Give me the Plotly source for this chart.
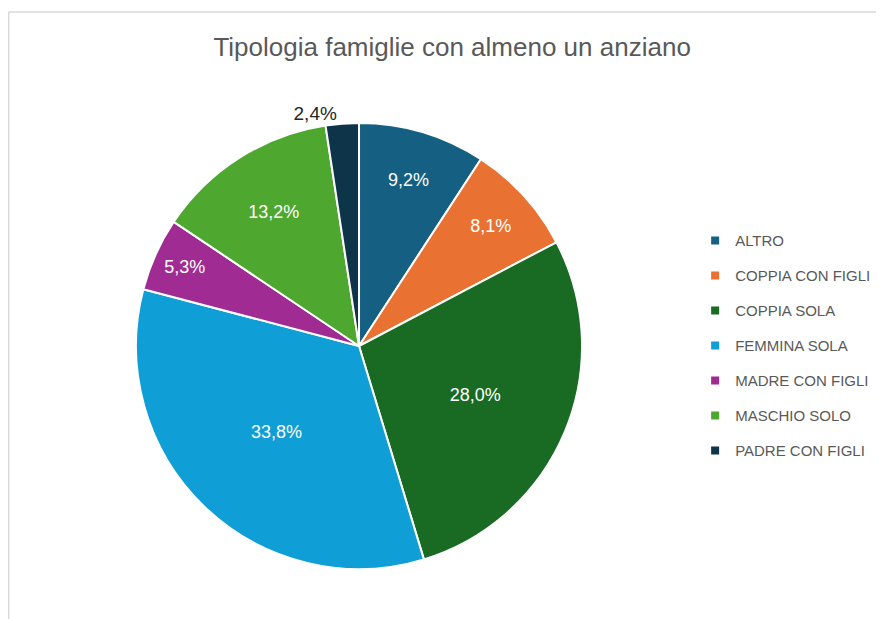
import plotly.graph_objects as go

# dati
categorie = ['ALTRO', 'COPPIA CON FIGLI', 'COPPIA SOLA', 'FEMMINA SOLA',
             'MADRE CON FIGLI', 'MASCHIO SOLO', 'PADRE CON FIGLI']
percentuali = [9.2, 8.1, 28.0, 33.8, 5.3, 13.2, 2.4]
colori = ['#156082', '#E97132', '#196B24', '#0F9ED5',
          '#A02B93', '#4EA72E', '#0E3449']

font_base = 'Liberation Sans, Arial, sans-serif'

fig = go.Figure()
fig.add_trace(go.Pie(labels=categorie,
                     values=percentuali,
                     sort=False,
                     direction='clockwise',
                     rotation=0,
                     marker=dict(colors=colori, line=dict(color='white', width=2)),
                     texttemplate='%{percent:.1%}',
                     textposition=['inside'] * 6 + ['outside'],
                     insidetextorientation='horizontal',
                     insidetextfont=dict(color='white', size=18, family=font_base),
                     outsidetextfont=dict(color='#262626', size=19, family=font_base),
                     domain=dict(x=[0.1450, 0.6564], y=[0.0818, 0.8118]),
                     showlegend=False,
                     hoverinfo='label+percent'))

# voci di legenda (quadratini come in Excel)
for nome, col in zip(categorie, colori):
    fig.add_trace(go.Scatter(x=[None], y=[None],
                             mode='markers',
                             name=nome,
                             legendgroup=nome,
                             marker=dict(symbol='square', size=8, color=col),
                             hoverinfo='skip'))

# la pagina ha un margine di 8px: la figura e' ridotta di conseguenza
fig.update_layout(width=876, height=611,
                  margin=dict(l=0, r=0, t=0, b=0),
                  paper_bgcolor='white',
                  plot_bgcolor='white',
                  separators=',.',
                  font=dict(family=font_base, size=15, color='#595959'),
                  title=dict(text='Tipologia famiglie con almeno un anziano',
                             x=0.507, xanchor='center',
                             y=0.936, yanchor='middle',
                             font=dict(size=26, color='#595959', family=font_base)),
                  xaxis=dict(visible=False),
                  yaxis=dict(visible=False),
                  legend=dict(x=0.7844, xanchor='left',
                              y=0.646, yanchor='top',
                              tracegroupgap=12.5,
                              itemclick=False,
                              font=dict(size=15, color='#595959')),
                  shapes=[dict(type='line', xref='paper', yref='paper',
                               x0=0.0008, x1=0.0008, y0=-0.02, y1=0.9935,
                               line=dict(color='#D9D9D9', width=1.5)),
                          dict(type='line', xref='paper', yref='paper',
                               x0=0.0008, x1=1.02, y0=0.9935, y1=0.9935,
                               line=dict(color='#D9D9D9', width=1.5))])

fig.write_html("out.html")
